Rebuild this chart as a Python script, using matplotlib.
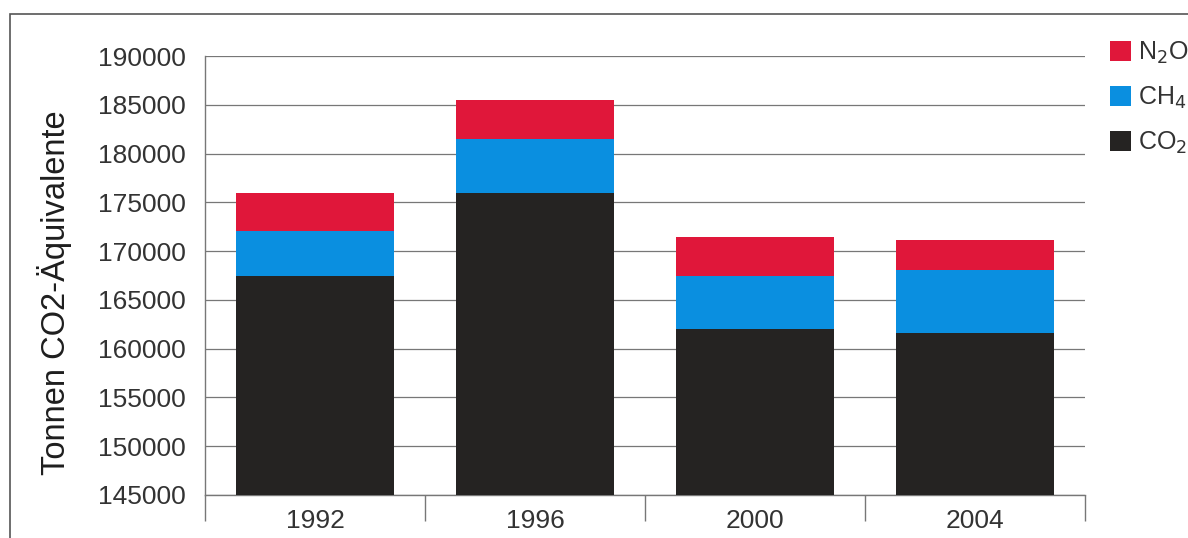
import matplotlib
matplotlib.use('Agg')
import numpy as np
from matplotlib import pyplot as plt
from matplotlib.patches import Rectangle

plt.rcParams['font.family'] = ['Liberation Sans', 'DejaVu Sans']

years = ['1992', '1996', '2000', '2004']
co2 = [167500, 176000, 162000, 161600]
ch4 = [4600, 5500, 5500, 6500]
n2o = [3900, 4000, 3900, 3000]

col_co2 = '#252322'
col_ch4 = '#0a8fe0'
col_n2o = '#e0173a'
text_col = '#333333'
line_col = '#777777'

fig = plt.figure(figsize=(11.88, 5.38), dpi=100)
ax = fig.add_axes([205 / 1188, 1 - 495 / 538, 880 / 1188, (495 - 56) / 538])

x = np.arange(len(years))
base = 145000
ax.bar(x, np.array(co2) - base, bottom=base, width=0.72, color=col_co2, label='CO$_2$', zorder=3)
ax.bar(x, ch4, bottom=co2, width=0.72, color=col_ch4, label='CH$_4$', zorder=3)
ax.bar(x, n2o, bottom=np.array(co2) + np.array(ch4), width=0.72, color=col_n2o,
       label='N$_2$O', zorder=3)

ax.set_ylim(145000, 190000)
ax.set_xlim(-0.5, 3.5)
ax.set_yticks(range(145000, 190001, 5000))
ax.grid(axis='y', color=line_col, linewidth=0.9, zorder=0)

ax.set_xticks(x)
ax.set_xticklabels(years)
ax.set_xticks(np.arange(-0.5, 4.0, 1.0), minor=True)
ax.tick_params(axis='x', which='major', length=0, pad=10, labelsize=19, labelcolor=text_col)
ax.tick_params(axis='x', which='minor', length=19, width=1, color=line_col)
ax.tick_params(axis='y', length=0, pad=14, labelsize=19, labelcolor=text_col)

for s in ['top', 'right']:
    ax.spines[s].set_visible(False)
for s in ['left', 'bottom']:
    ax.spines[s].set_color(line_col)
    ax.spines[s].set_linewidth(1)

ax.set_ylabel('Tonnen CO2-Äquivalente', fontsize=23.5, color='#1e1e1e')
ax.yaxis.set_label_coords(-0.151, 0.46)

handles, labels = ax.get_legend_handles_labels()
ax.legend(handles[::-1], labels[::-1], loc='upper left',
          bbox_to_anchor=(1100 / 1188, 1 - 30 / 538), bbox_transform=fig.transFigure,
          frameon=False, fontsize=18, handlelength=0.85, handleheight=0.85,
          handletextpad=0.25, labelspacing=0.75, borderaxespad=0, labelcolor=text_col)

fig.add_artist(Rectangle((10 / 1188, -0.1), 1.2, 1.1 - 14 / 538, transform=fig.transFigure,
                         fill=False, edgecolor='#555555', linewidth=1.2))

fig.savefig('out.png', dpi=100)
